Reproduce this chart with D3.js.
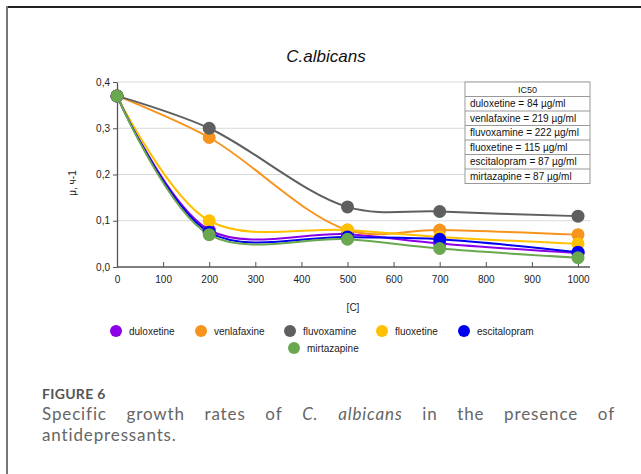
<!DOCTYPE html>
<html><head><meta charset="utf-8">
<script src="https://cdn.jsdelivr.net/npm/d3@7"></script>
<style>body{margin:0;background:#fff}svg{display:block}</style>
</head><body>
<script>
const concentrations = [0, 200, 500, 700, 1000];
const seriesNames = ["duloxetine","venlafaxine","fluvoxamine","fluoxetine","escitalopram","mirtazapine"];
const seriesColors = ["#8b00e6","#f7941d","#5f5f5f","#ffc000","#0000ee","#6aa84f"];
const duloxetine   = [0.37, 0.08, 0.071, 0.051, 0.030];
const venlafaxine  = [0.37, 0.28, 0.080, 0.080, 0.070];
const fluvoxamine  = [0.37, 0.30, 0.130, 0.120, 0.110];
const fluoxetine   = [0.37, 0.10, 0.080, 0.065, 0.050];
const escitalopram = [0.37, 0.075, 0.065, 0.060, 0.032];
const mirtazapine  = [0.37, 0.07, 0.060, 0.040, 0.020];
const xTicks = [0,100,200,300,400,500,600,700,800,900,1000];
const yTicks = [0,0.1,0.2,0.3,0.4];
const ic50Header = "IC50";
const ic50Rows = ["duloxetine = 84 µg/ml","venlafaxine = 219 µg/ml","fluvoxamine = 222 µg/ml","fluoxetine = 115 µg/ml","escitalopram = 87 µg/ml","mirtazapine = 87 µg/ml"];
const valuesList = [duloxetine, venlafaxine, fluvoxamine, fluoxetine, escitalopram, mirtazapine];

const W = 641, H = 474;
const svg = d3.select("body").append("svg").attr("width", W).attr("height", H);
const font = "'Liberation Sans', Arial, sans-serif";

// frame
svg.append("line").attr("x1",6).attr("x2",W).attr("y1",7).attr("y2",7).attr("stroke","#222").attr("stroke-width",2);
svg.append("line").attr("x1",7).attr("x2",7).attr("y1",6).attr("y2",H).attr("stroke","#777").attr("stroke-width",2);

const x = d3.scaleLinear().domain([0,1000]).range([117,578]);
const y = d3.scaleLinear().domain([0,0.4]).range([267,82]);
const gridRight = 590;

// gridlines
svg.append("g").selectAll("line").data(yTicks.filter(d=>d>0)).join("line")
  .attr("x1", x(0)).attr("x2", gridRight).attr("y1", d=>y(d)).attr("y2", d=>y(d))
  .attr("stroke","#d9d9d9").attr("stroke-width",1.2);

// x axis
const xAxis = svg.append("g").attr("transform",`translate(0,${y(0)})`)
  .call(d3.axisBottom(x).tickValues(xTicks).tickSizeInner(-5).tickSizeOuter(0).tickPadding(9).tickFormat(d3.format("d")));
xAxis.select(".domain").attr("d",`M${x(0)},0H${gridRight}`).attr("stroke","#555").attr("stroke-width",1.3);
xAxis.selectAll(".tick line").attr("stroke","#555");
xAxis.selectAll("text").attr("font-family",font).attr("font-size",10).attr("fill","#222");

// y axis
const yAxis = svg.append("g").attr("transform",`translate(${x(0)},0)`)
  .call(d3.axisLeft(y).tickValues(yTicks).tickSizeInner(4).tickSizeOuter(0).tickPadding(3)
  .tickFormat(d=>d3.format(".1f")(d).replace(".",",")));
yAxis.select(".domain").attr("stroke","#555").attr("stroke-width",1.3);
yAxis.selectAll(".tick line").attr("stroke","#555");
yAxis.selectAll("text").attr("font-family",font).attr("font-size",10).attr("fill","#222");

// title
svg.append("text").attr("x",326).attr("y",62).attr("text-anchor","middle")
  .attr("font-family",font).attr("font-style","italic").attr("font-size",17).attr("fill","#111").text("C.albicans");

// axis labels
svg.append("text").attr("transform",`translate(76,${183}) rotate(-90)`).attr("text-anchor","middle")
  .attr("font-family",font).attr("font-size",10).attr("fill","#222").text("μ, ч-1");
svg.append("text").attr("x",353).attr("y",311).attr("text-anchor","middle")
  .attr("font-family",font).attr("font-size",10).attr("fill","#222").text("[C]");

// IC50 table
const tX = 465, tY = 82, tW = 125, rowH = 14.5;
const tbl = svg.append("g");
tbl.append("rect").attr("x",tX).attr("y",tY).attr("width",tW).attr("height",rowH*7).attr("fill","#fff").attr("stroke","#999");
tbl.selectAll("line.row").data(d3.range(1,7)).join("line").attr("class","row")
  .attr("x1",tX).attr("x2",tX+tW).attr("y1",d=>tY+d*rowH).attr("y2",d=>tY+d*rowH).attr("stroke","#999");
const tfont = "'Liberation Sans Narrow','Arial Narrow','Liberation Sans',sans-serif";
tbl.append("text").attr("x",tX+tW/2).attr("y",tY+rowH/2+3.5).attr("text-anchor","middle")
  .attr("font-family",tfont).attr("font-size",9).attr("fill","#222").text(ic50Header);
tbl.selectAll("text.r").data(ic50Rows).join("text").attr("class","r")
  .attr("x",tX+5).attr("y",(d,i)=>tY+(i+1)*rowH+rowH/2+3.5)
  .attr("font-family",tfont).attr("font-size",10).attr("fill","#111").text(d=>d);

// series
const line = d3.line().x((d,i)=>x(concentrations[i])).y(d=>y(d)).curve(d3.curveCatmullRom.alpha(0.5));
const gS = svg.append("g");
valuesList.forEach((vals,si)=>{
  gS.append("path").datum(vals).attr("d",line).attr("fill","none")
    .attr("stroke",seriesColors[si]).attr("stroke-width",2);
});
valuesList.forEach((vals,si)=>{
  gS.append("g").selectAll("circle").data(vals).join("circle")
    .attr("cx",(d,i)=>x(concentrations[i])).attr("cy",d=>y(d)).attr("r",6.5)
    .attr("fill",seriesColors[si]);
});

// legend
const legendPos = [[116,331],[201,331],[290,331],[382,331],[464,331],[294,348]];
const lg = svg.append("g");
seriesNames.forEach((n,i)=>{
  const [cx,cy] = legendPos[i];
  lg.append("circle").attr("cx",cx).attr("cy",cy).attr("r",6).attr("fill",seriesColors[i]);
  lg.append("text").attr("x",cx+13).attr("y",cy+3.5).attr("font-family",font).attr("font-size",10)
    .attr("fill","#222").text(n);
});

// caption
const cfont = "Lato,'Open Sans',sans-serif";
const capSize = 17;
svg.append("text").attr("x",42).attr("y",399).attr("font-family",cfont).attr("font-size",14)
  .attr("font-weight",700).attr("letter-spacing",0.3).attr("fill","#555").text("FIGURE 6");
// second line, letter-spacing tuned to match width
const l2 = svg.append("text").attr("x",42).attr("y",441).attr("font-family",cfont).attr("font-size",capSize)
  .attr("fill","#666").text("antidepressants.");
const baseW = l2.node().getComputedTextLength();
const ls = Math.max(0, (135 - baseW) / 16);
l2.attr("letter-spacing", ls);
// justified first line, word by word
const words = [["Specific",false],["growth",false],["rates",false],["of",false],["C.",true],["albicans",true],["in",false],["the",false],["presence",false],["of",false]];
const capG = svg.append("g");
const wEls = words.map(([w,it])=>capG.append("text").attr("y",420).attr("font-family",cfont).attr("font-size",capSize)
  .attr("letter-spacing",ls).attr("font-style",it?"italic":"normal").attr("fill","#666").text(w));
const widths = wEls.map(e=>e.node().getComputedTextLength());
const left = 42, right = 615;
const gap = (right-left-d3.sum(widths))/(words.length-1);
let cx = left;
wEls.forEach((e,i)=>{ e.attr("x",cx); cx += widths[i]+gap; });
</script>
</body></html>
